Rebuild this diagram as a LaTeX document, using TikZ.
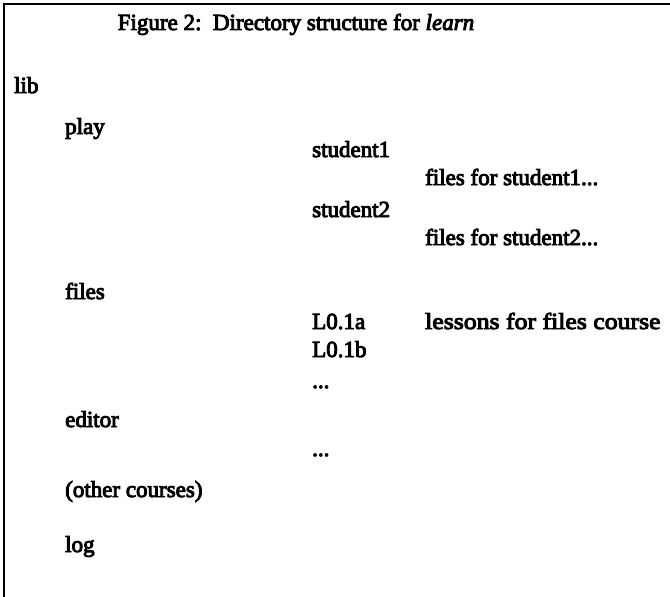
\documentclass[tikz,border=0pt]{standalone}
\usepackage{fontspec}
\usepackage{graphicx}
\setmainfont{Liberation Serif}[UprightFeatures={FakeBold=4},ItalicFeatures={FakeBold=4}]
\begin{document}
\begin{tikzpicture}[x=1pt,y=1pt,
  txt/.style={anchor=base west,inner sep=0pt,font=\fontsize{23}{26}\selectfont},
  frameline/.style={line width=1.6pt,line cap=rect}]
\useasboundingbox (0,0) rectangle (670,-597);
\draw[frameline] (670,-4) -- (4,-4) -- (4,-600);
\node[txt,anchor=base] (title) at (296,-30) {Figure 2:\ \ Directory structure for \textit{learn}};
\node[txt] (lib) at (14,-93) {lib};
\node[txt] (play) at (65,-134) {play};
\node[txt] (s1) at (312,-157) {student1};
\node[txt] (f1) at (425,-185) {files for student1...};
\node[txt] (s2) at (312,-217) {student2};
\node[txt] (f2) at (425,-245) {files for student2...};
\node[txt] (files) at (65,-299) {files};
\node[txt] (l1a) at (312,-329) {L0.1a};
\node[txt] (lessons) at (425,-329) {\scalebox{1.12}[1]{lessons for files course}};
\node[txt] (l1b) at (312,-357) {L0.1b};
\node[txt] (d1) at (312,-388) {...};
\node[txt] (editor) at (65,-427) {editor};
\node[txt] (d2) at (312,-456) {...};
\node[txt] (other) at (65,-497) {(other courses)};
\node[txt] (log) at (65,-552) {log};
\end{tikzpicture}
\end{document}
